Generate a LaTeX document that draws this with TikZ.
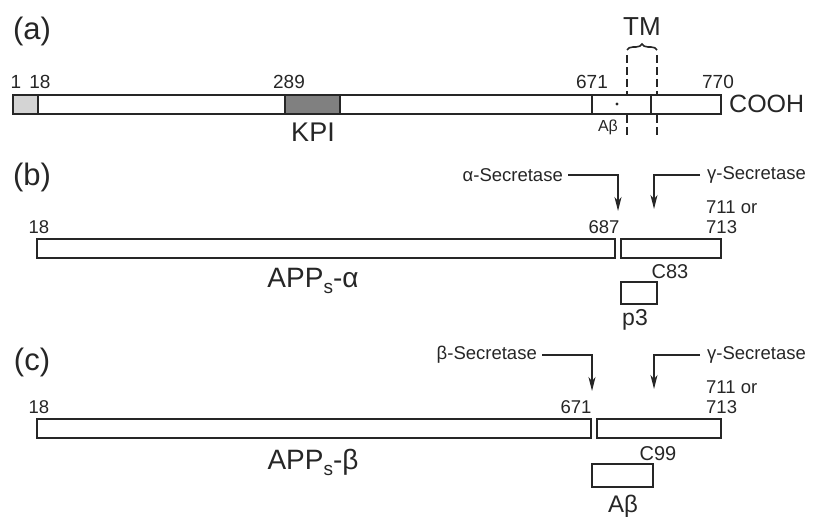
\documentclass[tikz,border=0pt]{standalone}
\usepackage{fontspec}
\setmainfont{Liberation Sans}
\usetikzlibrary{arrows.meta,decorations.pathreplacing}
\definecolor{ink}{HTML}{262626}
\definecolor{lightg}{HTML}{D4D4D4}
\definecolor{kpig}{HTML}{808080}
\newcommand{\fs}[1]{\fontsize{#1}{#1}\selectfont}
\newcommand{\subs}{\raisebox{-0.4ex}{\fs{19}s}}
\begin{document}
\begin{tikzpicture}[x=1pt,y=-1pt,
  bar/.style={draw=ink,line width=1.6pt,fill=white},
  thin/.style={draw=ink,line width=1.6pt},
  txt/.style={inner sep=0pt,text=ink},
  panel/.style={txt,font=\fs{31}},
  num/.style={txt,font=\fs{18.5}},
  arr/.style={draw=ink,line width=1.3pt,-{Stealth[length=14pt,width=7pt,inset=4pt]}},
  dsh/.style={draw=ink,line width=1.4pt,dash pattern=on 8pt off 4pt}]
\useasboundingbox (0,0) rectangle (813,518);
% ---------- (a) ----------
\node[panel] (pa) at (32,31) {(a)};
\draw[dsh] (627,55) -- (627,137);
\draw[dsh] (657,55) -- (657,137);
\draw[bar] (13,95) rectangle (721,114);
\draw[bar,fill=lightg] (13,95) rectangle (38,114);
\draw[bar,fill=kpig] (285,95) rectangle (340,114);
\draw[thin] (592,95) -- (592,114);
\draw[thin] (651,95) -- (651,114);
\fill[ink] (617,104) circle (1.6);
\draw[draw=ink,line width=1.6pt,decorate,decoration={brace,amplitude=6pt}] (627,50) -- (657,50);
\node[txt,font=\fs{26}] (tm) at (642,27) {TM};
\node[num,font=\fs{19}] (n1) at (16,82) {1};
\node[num,font=\fs{19}] (n18a) at (40,82) {18};
\node[num,font=\fs{19}] (n289) at (289,82) {289};
\node[num,font=\fs{19}] (n671a) at (592,82) {671};
\node[num,font=\fs{19}] (n770) at (718,82) {770};
\node[txt,font=\fs{25},anchor=west] (cooh) at (729,104) {COOH};
\node[txt,font=\fs{27}] (kpi) at (313,132) {KPI};
\node[txt,font=\fs{16}] (abs) at (608,127) {Aβ};
% ---------- (b) ----------
\node[panel] (pb) at (32,177) {(b)};
\draw[bar] (37,239) rectangle (615,258);
\draw[bar] (621,239) rectangle (721,258);
\draw[bar] (621,282) rectangle (657,304);
\node[num] (n18b) at (39,227) {18};
\node[num] (n687) at (604,227) {687};
\node[num,anchor=west] (n711b) at (706,207) {711 or};
\node[num,anchor=west] (n713b) at (706,227) {713};
\node[txt,font=\fs{20}] (c83) at (670,272) {C83};
\node[txt,font=\fs{23}] (p3) at (635,320) {p3};
\node[txt,font=\fs{28}] (appa) at (313,281) {APP\subs-α};
\node[num,anchor=east] (asec) at (563,175) {α-Secretase};
\node[num,anchor=west] (gsecb) at (707,175) {γ-Secretase};
\coordinate (atip) at (618,211);
\coordinate (gtipb) at (654,209);
\draw[arr] ([xshift=5pt]asec.east) -| (atip);
\draw[arr] ([xshift=-7pt]gsecb.west) -| (gtipb);
% ---------- (c) ----------
\node[panel] (pc) at (32,362) {(c)};
\draw[bar] (37,419) rectangle (591,438);
\draw[bar] (597,419) rectangle (721,438);
\draw[bar] (592,464) rectangle (653,487);
\node[num] (n18c) at (39,407) {18};
\node[num] (n671c) at (576,407) {671};
\node[num,anchor=west] (n711c) at (706,387) {711 or};
\node[num,anchor=west] (n713c) at (706,407) {713};
\node[txt,font=\fs{20}] (c99) at (658,454) {C99};
\node[txt,font=\fs{24}] (abc) at (623,506) {Aβ};
\node[txt,font=\fs{28}] (appb) at (313,462) {APP\subs-β};
\node[num,anchor=east] (bsec) at (537,355) {β-Secretase};
\node[num,anchor=west] (gsecc) at (707,355) {γ-Secretase};
\coordinate (btip) at (592,391);
\coordinate (gtipc) at (654,389);
\draw[arr] ([xshift=5pt]bsec.east) -| (btip);
\draw[arr] ([xshift=-7pt]gsecc.west) -| (gtipc);
\end{tikzpicture}
\end{document}
